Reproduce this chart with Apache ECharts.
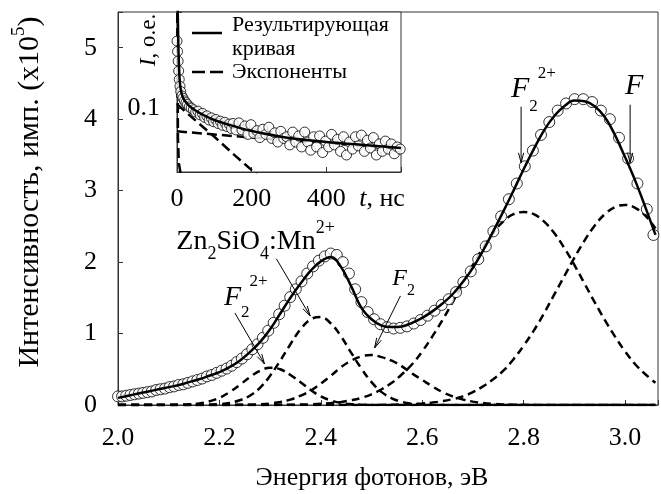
<!DOCTYPE html>
<html><head><meta charset="utf-8">
<script src="https://cdn.jsdelivr.net/npm/echarts@6/dist/echarts.min.js"></script>
<style>html,body{margin:0;padding:0;background:#fff}#c{width:661px;height:494px}</style>
</head><body><div id="c"></div>
<script>
// ---------- main spectrum data ----------
const energyGrid = [2.00,2.02,2.04,2.06,2.08,2.10,2.12,2.14,2.16,2.18,2.20,2.22,2.24,2.26,2.28,2.30,2.32,2.34,2.36,2.38,2.40,2.42,2.44,2.46,2.48,2.50,2.52,2.54,2.56,2.58,2.60,2.62,2.64,2.66,2.68,2.70,2.72,2.74,2.76,2.78,2.80,2.82,2.84,2.86,2.88,2.90,2.92,2.94,2.96,2.98,3.00,3.02,3.04,3.06];
const bandF22Low = [0,0,0,0,0,0.001,0.003,0.009,0.022,0.051,0.10,0.18,0.28,0.39,0.48,0.52,0.50,0.42,0.32,0.21,0.12,0.064,0.029,0.012,0.004,0.001,0,0,0,0,0,0,0,0,0,0,0,0,0,0,0,0,0,0,0,0,0,0,0,0,0,0,0,0];
const bandZnSiO = [0,0,0,0,0,0,0,0,0.002,0.004,0.012,0.029,0.066,0.13,0.24,0.41,0.62,0.85,1.06,1.20,1.23,1.14,0.96,0.73,0.51,0.32,0.18,0.094,0.044,0.019,0.007,0.002,0,0,0,0,0,0,0,0,0,0,0,0,0,0,0,0,0,0,0,0,0,0];
const bandF2 = [0,0,0,0,0,0,0,0,0,0,0,0,0.002,0.004,0.010,0.021,0.041,0.076,0.13,0.20,0.30,0.41,0.53,0.62,0.68,0.70,0.67,0.62,0.54,0.44,0.35,0.26,0.18,0.12,0.078,0.047,0.027,0.015,0.008,0.004,0.002,0,0,0,0,0,0,0,0,0,0,0,0,0];
const bandF22High = [0,0,0,0,0,0,0,0,0,0,0,0,0,0,0,0.001,0.002,0.003,0.006,0.010,0.016,0.027,0.043,0.067,0.10,0.15,0.22,0.31,0.43,0.57,0.75,0.96,1.19,1.44,1.70,1.96,2.20,2.41,2.57,2.67,2.70,2.67,2.57,2.41,2.20,1.96,1.70,1.44,1.19,0.96,0.75,0.57,0.43,0.31];
const bandF = [0,0,0,0,0,0,0,0,0,0,0,0,0,0,0,0,0,0,0,0,0,0,0,0,0,0.001,0.002,0.004,0.008,0.013,0.021,0.034,0.054,0.082,0.12,0.18,0.26,0.36,0.48,0.64,0.83,1.04,1.28,1.54,1.80,2.06,2.30,2.51,2.67,2.77,2.80,2.76,2.65,2.47];
const fitSum = [0.10,0.13,0.16,0.19,0.22,0.25,0.28,0.32,0.36,0.41,0.46,0.53,0.62,0.74,0.88,1.06,1.28,1.50,1.70,1.88,2.01,2.07,1.93,1.66,1.36,1.20,1.11,1.09,1.10,1.15,1.22,1.31,1.42,1.55,1.72,1.92,2.16,2.43,2.71,3.00,3.30,3.58,3.84,4.04,4.18,4.26,4.25,4.18,4.03,3.78,3.47,3.14,2.77,2.38];
const measuredEnergy = [2.0000,2.0081,2.0163,2.0245,2.0328,2.0412,2.0496,2.0581,2.0667,2.0753,2.0840,2.0928,2.1017,2.1106,2.1197,2.1288,2.1379,2.1472,2.1565,2.1659,2.1754,2.1850,2.1947,2.2044,2.2143,2.2242,2.2342,2.2443,2.2545,2.2648,2.2752,2.2857,2.2963,2.3070,2.3178,2.3286,2.3396,2.3507,2.3619,2.3732,2.3846,2.3961,2.4078,2.4195,2.4314,2.4433,2.4554,2.4677,2.4800,2.4925,2.5051,2.5178,2.5306,2.5436,2.5567,2.5699,2.5833,2.5969,2.6105,2.6243,2.6383,2.6524,2.6667,2.6811,2.6957,2.7104,2.7253,2.7403,2.7556,2.7709,2.7865,2.8023,2.8182,2.8343,2.8506,2.8671,2.8837,2.9006,2.9176,2.9349,2.9524,2.9701,2.9880,3.0061,3.0244,3.0429,3.0560];
const measuredIntensity = [0.12,0.12,0.13,0.14,0.15,0.16,0.17,0.18,0.19,0.21,0.22,0.23,0.25,0.26,0.28,0.29,0.31,0.33,0.35,0.37,0.40,0.42,0.45,0.48,0.51,0.55,0.60,0.65,0.71,0.78,0.85,0.94,1.04,1.15,1.27,1.39,1.51,1.62,1.73,1.84,1.94,2.02,2.08,2.12,2.10,2.00,1.84,1.62,1.44,1.30,1.20,1.13,1.09,1.07,1.08,1.10,1.14,1.19,1.25,1.32,1.40,1.48,1.58,1.72,1.87,2.04,2.22,2.43,2.64,2.88,3.10,3.34,3.56,3.78,3.96,4.12,4.22,4.28,4.28,4.24,4.12,4.00,3.74,3.45,3.10,2.74,2.38];
const energyTicks = [2.0,2.2,2.4,2.6,2.8,3.0];
const intensityTicks = [0,1,2,3,4,5];

// ---------- inset (decay) data ----------
const decayTime = [0,1.5,3,4.5,6,8,10,13,16,20,24,28,33,38,44,50,56,62,68,74,80,86,92,98,104,110,116,122,128,134,140,146,150,158,166,174,182,190,198,206,214,222,230,238,246,254,262,270,278,286,294,302,310,318,326,334,342,350,358,366,374,382,390,398,406,414,422,430,438,446,454,462,470,478,486,494,502,510,518,526,534,542,550,558,566,574,582,590,598];
const decayIntensity = [0.50,0.39,0.31,0.245,0.20,0.17,0.15,0.135,0.128,0.12,0.115,0.11,0.104,0.101,0.097,0.092,0.094,0.086,0.089,0.081,0.084,0.076,0.080,0.073,0.077,0.070,0.074,0.067,0.072,0.065,0.069,0.062,0.070,0.060,0.071,0.060,0.066,0.054,0.068,0.055,0.059,0.050,0.061,0.054,0.064,0.049,0.056,0.045,0.058,0.049,0.051,0.042,0.057,0.045,0.052,0.040,0.057,0.045,0.037,0.051,0.040,0.052,0.035,0.046,0.040,0.054,0.042,0.048,0.036,0.051,0.033,0.045,0.038,0.051,0.041,0.053,0.036,0.047,0.039,0.050,0.033,0.043,0.036,0.046,0.038,0.043,0.034,0.040,0.038];
const decayFitTime = [0,3,5,8,12,18,28,40,60,100,150,200,300,400,500,600];
const decayFitIntensity = [3.0,0.6,0.30,0.18,0.145,0.125,0.111,0.101,0.090,0.076,0.066,0.0585,0.0495,0.045,0.0419,0.039];
const expFastTime = [0,1.5,2.5,3,5,10];
const expFastIntensity = [2.0,0.3,0.05,0.045,0.027,0.021];
const expMidTime = [0,50,100,150,200,250];
const expMidIntensity = [0.111,0.075,0.051,0.034,0.023,0.0157];
const expSlowTime = [0,200,400,600];
const expSlowIntensity = [0.058,0.050,0.044,0.038];
const decayTicks = [0,200,400];

// ---------- texts ----------
const xTitle = 'Энергия фотонов, эВ';
const yTitle = 'Интенсивность, имп. (x10';
const legendFit = ['Результирующая', 'кривая'];
const legendExp = 'Экспоненты';

const FONT = 'Liberation Serif';
const pairs = (xs, ys) => xs.map((x, i) => [x, ys[i]]);
const chart = echarts.init(document.getElementById('c'), null, {renderer: 'canvas', width: 661, height: 494});

function line(data, xi, yi, dash, width, z, smooth) {
  return {type: 'line', xAxisIndex: xi, yAxisIndex: yi, data: data, showSymbol: false, symbol: 'none',
    smooth: smooth, silent: true, z: z, clip: true,
    lineStyle: {color: '#000', width: width, type: dash}};
}
const axisCommon = {
  axisLine: {show: true, onZero: false, lineStyle: {color: '#333', width: 1}},
  axisTick: {show: true, inside: true, length: 5, lineStyle: {color: '#333', width: 1}},
  splitLine: {show: false}
};
const lbl = (size, margin, fmt) => ({fontFamily: FONT, fontSize: size, color: '#000', margin: margin, formatter: fmt});

const option = {
  animation: false,
  backgroundColor: '#fff',
  textStyle: {fontFamily: FONT},
  grid: [
    {left: 118, right: -2, top: 12, bottom: 89, show: true, borderColor: '#333', borderWidth: 1, backgroundColor: 'rgba(0,0,0,0)', z: 0},
    {left: 177, top: 12, width: 224, height: 160, show: true, borderColor: '#333', borderWidth: 1, backgroundColor: '#fff', z: 3}
  ],
  xAxis: [
    Object.assign({type: 'value', gridIndex: 0, min: 2.0, max: 3.065, interval: 0.2,
      axisLabel: lbl(26, 20, v => energyTicks.some(t => Math.abs(t - v) < 1e-6) ? v.toFixed(1) : '')}, axisCommon),
    Object.assign({type: 'value', gridIndex: 1, min: 0, max: 600, interval: 200, z: 4,
      axisLabel: lbl(26, 14, v => decayTicks.indexOf(Math.round(v)) >= 0 ? String(Math.round(v)) : '')}, axisCommon)
  ],
  yAxis: [
    Object.assign({type: 'value', gridIndex: 0, min: 0, max: 5.5, interval: 1,
      axisLabel: lbl(26, 21, v => intensityTicks.indexOf(v) >= 0 ? String(v) : '')}, axisCommon),
    Object.assign({type: 'log', logBase: 10, gridIndex: 1, min: 0.022, max: 1, z: 4,
      axisLabel: lbl(26, 17, v => Math.abs(v - 0.1) < 1e-6 ? '0.1' : '')}, axisCommon)
  ],
  series: [
    line(pairs(energyGrid, bandF22Low), 0, 0, [8, 5], 2.5, 2, 0.4),
    line(pairs(energyGrid, bandZnSiO), 0, 0, [8, 5], 2.5, 2, 0.4),
    line(pairs(energyGrid, bandF2), 0, 0, [8, 5], 2.5, 2, 0.4),
    line(pairs(energyGrid, bandF22High), 0, 0, [8, 5], 2.5, 2, 0.4),
    line(pairs(energyGrid, bandF), 0, 0, [8, 5], 2.5, 2, 0.4),
    {type: 'scatter', xAxisIndex: 0, yAxisIndex: 0, data: pairs(measuredEnergy, measuredIntensity), symbol: 'circle', symbolSize: 11,
      silent: true, z: 3, itemStyle: {color: '#fff', borderColor: '#000', borderWidth: 1}},
    line(pairs(energyGrid, fitSum), 0, 0, 'solid', 2.5, 4, 0.4),
    line(pairs(expFastTime, expFastIntensity), 1, 1, [10, 5], 2.5, 6, false),
    line(pairs(expMidTime, expMidIntensity), 1, 1, [10, 5], 2.5, 6, false),
    line(pairs(expSlowTime, expSlowIntensity), 1, 1, [10, 5], 2.5, 6, false),
    {type: 'scatter', xAxisIndex: 1, yAxisIndex: 1, data: pairs(decayTime, decayIntensity), symbol: 'circle', symbolSize: 10,
      silent: true, z: 7, itemStyle: {color: '#fff', borderColor: '#000', borderWidth: 1}},
    line(pairs(decayFitTime, decayFitIntensity), 1, 1, 'solid', 2.5, 8, 0.3)
  ]
};
chart.setOption(option);

// ---------- annotations ----------
function txt(x, y, text, rich, align, rotation) {
  return {type: 'text', x: x, y: y, rotation: rotation || 0, z: 20, silent: true,
    style: {text: text, rich: rich, align: align || 'left', verticalAlign: 'middle',
      textAlign: align || 'left', textVerticalAlign: 'middle', fill: '#000', fontFamily: FONT}};
}
function tok(size, lh, va, italic) {
  return {fontFamily: FONT, fontSize: size, lineHeight: lh, verticalAlign: va, fontStyle: italic ? 'italic' : 'normal', fill: '#000', color: '#000'};
}
function arrow(p0, p1) {
  const dx = p1[0] - p0[0], dy = p1[1] - p0[1], L = Math.hypot(dx, dy);
  const ux = dx / L, uy = dy / L, len = 10, w = 2.6;
  const a = [p1[0] - ux * len - uy * w, p1[1] - uy * len + ux * w];
  const b = [p1[0] - ux * len + uy * w, p1[1] - uy * len - ux * w];
  return [
    {type: 'line', z: 20, silent: true, shape: {x1: p0[0], y1: p0[1], x2: p1[0], y2: p1[1]}, style: {stroke: '#000', lineWidth: 1}},
    {type: 'polyline', z: 20, silent: true, shape: {points: [a, p1, b]}, style: {stroke: '#000', lineWidth: 1, fill: null}}
  ];
}
const P = (x, y) => chart.convertToPixel({xAxisIndex: 0, yAxisIndex: 0}, [x, y]);
const els = [];
// F2^2+ (low energy)
let q = P(2.209, 1.372);
els.push(txt(q[0], q[1] - 9.5, '{f|F}{s|2}{p|2+}', {f: tok(28, 48, 'middle', true), s: tok(17, 21, 'bottom'), p: tok(17, 27, 'top')}));
els.push(...arrow(P(2.2305, 1.288), P(2.289, 0.574)));
// Zn2SiO4:Mn2+
q = P(2.115, 2.156);
els.push(txt(q[0], q[1] - 9.5, '{m|Zn}{s|2}{m|SiO}{s|4}{m|:Mn}{p|2+}', {m: tok(28, 44, 'middle'), s: tok(18, 20, 'bottom'), p: tok(18, 28, 'top')}));
els.push(...arrow(P(2.3125, 2.044), P(2.379, 1.246)));
// F2
q = P(2.541, 1.652);
els.push(txt(q[0], q[1] - 8.2, '{f|F}{s|2}', {f: tok(24, 40, 'middle', true), s: tok(16, 14, 'bottom')}));
els.push(...arrow(P(2.557, 1.526), P(2.506, 0.798)));
// F2^2+ (high energy)
q = P(2.775, 4.272);
els.push(txt(q[0], q[1] - 10.2, '{f|F}{s|2}{p|2+}', {f: tok(30, 50, 'middle', true), s: tok(17, 21, 'bottom'), p: tok(17, 33, 'top')}));
els.push(...arrow(P(2.795, 4.174), P(2.795, 3.389)));
// F
q = P(3.0, 4.314);
els.push(txt(q[0], q[1] - 10.2, '{f|F}', {f: tok(30, 34, 'middle', true)}));
els.push(...arrow(P(3.010, 4.202), P(3.010, 3.389)));

// axis titles
els.push(txt(372, 478, '{a|' + xTitle + '}', {a: tok(26, 30, 'middle')}, 'center'));
els.push(txt(30, 192, '{a|' + yTitle + '}{s|5}{a|)}', {a: tok(30, 40, 'middle'), s: tok(19, 24, 'top')}, 'center', Math.PI / 2));
// inset titles
els.push(txt(382, 199.5, '{i|t}{n|, нс}', {i: tok(26, 30, 'middle', true), n: tok(26, 30, 'middle')}, 'center'));
els.push(txt(149, 40, '{i|I}{n|, о.е.}', {i: tok(23, 26, 'middle', true), n: tok(23, 26, 'middle')}, 'center', Math.PI / 2));
// inset legend
els.push({type: 'line', z: 20, silent: true, shape: {x1: 192, y1: 33, x2: 222, y2: 33}, style: {stroke: '#000', lineWidth: 2.5}});
els.push({type: 'line', z: 20, silent: true, shape: {x1: 192, y1: 72, x2: 223, y2: 72}, style: {stroke: '#000', lineWidth: 2.5, lineDash: [13, 5]}});
els.push(txt(232, 25.5, '{a|' + legendFit[0] + '}', {a: tok(22, 26, 'middle')}));
els.push(txt(232, 49.5, '{a|' + legendFit[1] + '}', {a: tok(22, 26, 'middle')}));
els.push(txt(232, 72.5, '{a|' + legendExp + '}', {a: tok(22, 26, 'middle')}));

chart.setOption({graphic: {elements: els}});
</script>
</body></html>
